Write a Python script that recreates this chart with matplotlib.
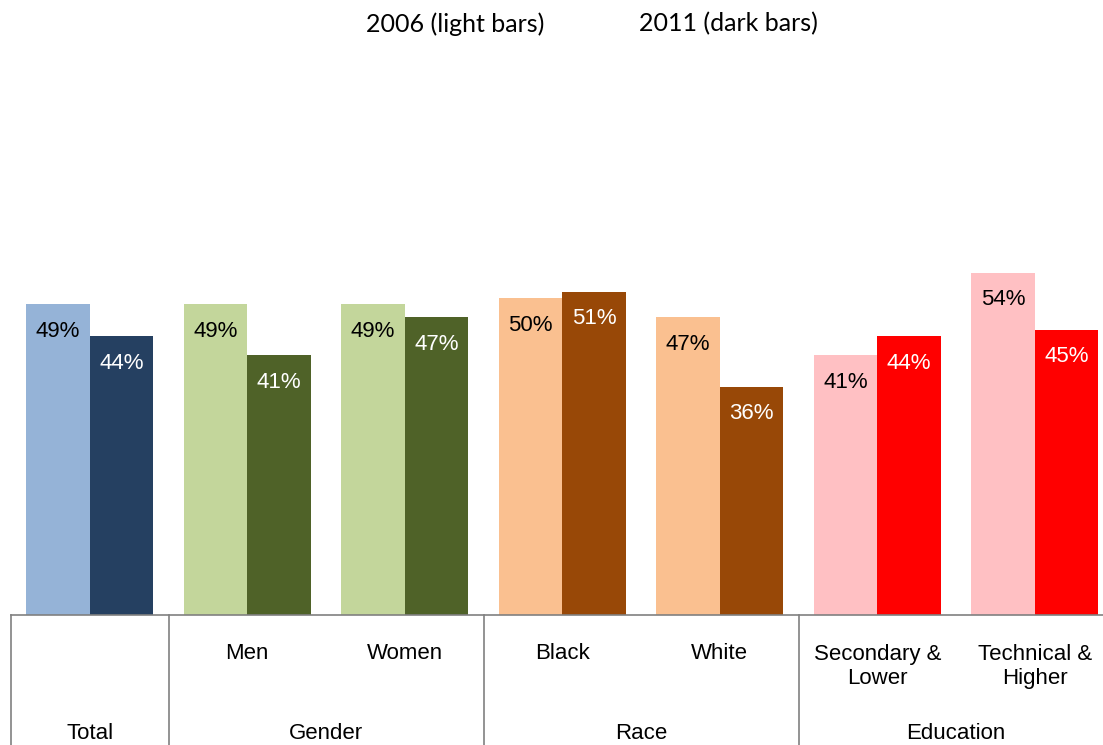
import matplotlib
matplotlib.use("Agg")
from matplotlib import pyplot as plt
from matplotlib import transforms as mtrans
import numpy as np

# data
categories = ["", "Men", "Women", "Black", "White", "Secondary &\nLower", "Technical &\nHigher"]
groups = ["Total", "Gender", "Race", "Education"]
group_spans = [(0, 0), (1, 2), (3, 4), (5, 6)]
values_2006 = [49, 49, 49, 50, 47, 41, 54]
values_2011 = [44, 41, 47, 51, 36, 44, 45]

# colours per category (light = 2006, dark = 2011)
light_cols = ["#95B3D7", "#C3D69B", "#C3D69B", "#FAC090", "#FAC090", "#FFC0C3", "#FFC0C3"]
dark_cols = ["#254061", "#4F6228", "#4F6228", "#984807", "#984807", "#FF0000", "#FF0000"]

plt.rcParams['font.family'] = ['Liberation Sans', 'DejaVu Sans']

W, H = 1103, 745
fig = plt.figure(figsize=(W / 100, H / 100), dpi=100)
# axes from x=10 px, 157.5 px per category, baseline at y=615 px
left = 11 / W
bottom = (H - 615) / H
px_per_pct = 6.34
top_px = 60
ax = fig.add_axes([left, bottom, 7 * 157.5 / W, (615 - top_px) / H])

x = np.arange(len(categories))
bw = 0.403
ax.bar(x - bw / 2, values_2006, width=bw, color=light_cols, linewidth=0)
ax.bar(x + bw / 2, values_2011, width=bw, color=dark_cols, linewidth=0)

ax.set_xlim(-0.5, len(categories) - 0.5)
ax.set_ylim(0, (615 - top_px) / px_per_pct)

# value labels inside bars
for i in range(len(categories)):
    ax.annotate(f"{values_2006[i]}%", (x[i] - bw / 2, values_2006[i]), xytext=(0, -19.5),
                textcoords="offset points", ha="center", va="center", fontsize=16, color="black")
    ax.annotate(f"{values_2011[i]}%", (x[i] + bw / 2, values_2011[i]), xytext=(0, -19.5),
                textcoords="offset points", ha="center", va="center", fontsize=16, color="white")

for s in ["top", "right", "left"]:
    ax.spines[s].set_visible(False)
ax.spines["bottom"].set_color("#808080")
ax.spines["bottom"].set_linewidth(1.2)
ax.set_xticks([])
ax.set_yticks([])

# category labels
for i, c in enumerate(categories):
    if c == "":
        continue
    off = -37 if "\n" in c else -27.5
    ax.annotate(c, (x[i], 0), xycoords=("data", "axes fraction"), xytext=(0, off),
                textcoords="offset points", ha="center", va="center", fontsize=16,
                linespacing=1.2, annotation_clip=False)

# group labels and dividers
trans = mtrans.blended_transform_factory(ax.transData, ax.transAxes)
for g, (a, b) in zip(groups, group_spans):
    ax.annotate(g, ((a + b) / 2, 0), xycoords=("data", "axes fraction"), xytext=(0, -85.5),
                textcoords="offset points", ha="center", va="center", fontsize=16,
                annotation_clip=False)
    ax.plot([a - 0.5, a - 0.5], [0, -135 / (615 - top_px)], transform=trans, color="#808080",
            linewidth=1.2, clip_on=False)

# legend text
fig.text(455 / W, 1 - 24 / H, "2006 (light bars)", ha="center", va="center", fontsize=18,
         family=["Lato", "DejaVu Sans"])
fig.text(728 / W, 1 - 24 / H, "2011 (dark bars)", ha="center", va="center", fontsize=18,
         family=["Lato", "DejaVu Sans"])

plt.savefig("out.png", dpi=100)
